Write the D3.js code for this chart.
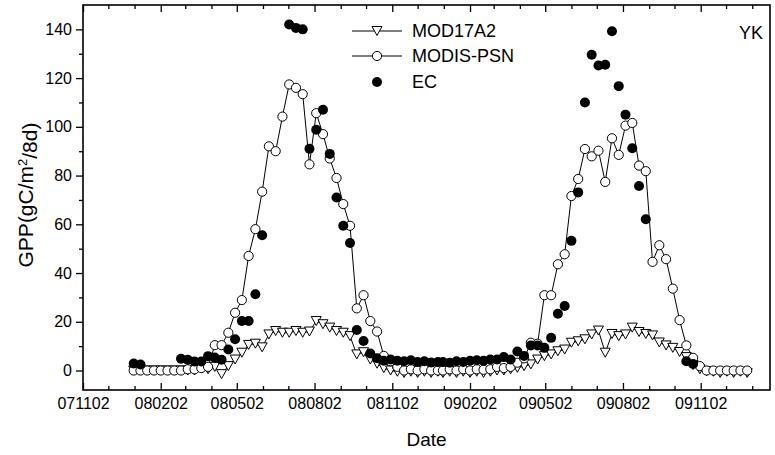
<!DOCTYPE html>
<html>
<head>
<meta charset="utf-8">
<script src="https://cdn.jsdelivr.net/npm/d3@7"></script>
<style>
  body { margin: 0; background: #fff; }
  svg { font-family: "Liberation Sans", Arial, sans-serif; }
</style>
</head>
<body>
<div class="vis1"></div>
<script>
// GPP time series at YK: MOD17A2, MODIS-PSN and EC, 8-day composites 2008-2009

const FRAME_WIDTH = 775;
const FRAME_HEIGHT = 455;
const MARGINS = {left: 83, right: 5, top: 5, bottom: 65};

const VIS_WIDTH = FRAME_WIDTH - MARGINS.left - MARGINS.right;
const VIS_HEIGHT = FRAME_HEIGHT - MARGINS.top - MARGINS.bottom;

// composite start days (day of year) and years
const YEARS = [2008, 2009];
const DOY = [1, 9, 17, 25, 33, 41, 49, 57, 65, 73, 81, 89, 97, 105, 113, 121,
             129, 137, 145, 153, 161, 169, 177, 185, 193, 201, 209, 217, 225,
             233, 241, 249, 257, 265, 273, 281, 289, 297, 305, 313, 321, 329,
             337, 345, 353, 361];

// series values, gC/m2/8d (2008 then 2009)
const MOD17A2 = [
  0, 0, 0, 0, 0, 0, 0, 0, 0, 0, 1, 0.5, 1.5, -1.5, 1.8, 4.5, 7.3, 10.5, 11, 9.5,
  14.8, 16.2, 15.5, 15.5, 16.2, 15.5, 16, 20.3, 19, 17.6, 16.2, 15.5, 14.1, 6.6, 7.5, 4.5,
  2.8, 1, 0, -0.5, -1, -0.5, -1, -0.5, -1, -0.5,
  -1, -0.5, -1, -0.5, -1, -0.5, -1, -0.5, 0, 0, 0.5, 1.1, 1.8, 2.5, 4.5, 5.9, 6.6, 7.9,
  8.6, 11.4, 12, 12.8, 14.8, 16.4, 7.3, 15, 14.1, 14.8, 17.6, 15.8, 15, 14.4, 11.5, 10.3,
  9.3, 7.6, 5.5, 2.2, 0.5, -0.3, -0.5, -1, -0.5, -1, -0.5, -1
];
const MODIS_PSN = [
  0, 0, 0, 0, 0, 0, 0, 0, 0.5, 0.5, 1, 1.5, 10.4, 10.4, 15.5, 23.7, 28.9, 47, 58, 73.4,
  92, 90, 104.2, 117.4, 116, 113.4, 84.6, 105.6, 97, 87, 79, 68.3, 59.4, 25.5, 30.9, 20.3,
  16, 6, 3.8, 1.5, 0, 0.5, 0, 0.5, 0, 0,
  0, 0.5, 0, 0.5, 0, 0.5, 0.3, 0.5, 1.5, 1, 1.5, 3.2, 5, 11.4, 11, 30.9, 30.9, 43.6,
  47.7, 71.6, 78.6, 90.9, 87.9, 90.2, 77.4, 95.3, 88.5, 100.5, 101.6, 84.1, 81.8, 44.6,
  51.4, 45.7, 33.6, 20.7, 10.3, 5.2, 1.8, 0, 0, 0, 0, 0, 0, 0
];
const EC = [
  2.9, 2.5, null, null, null, null, null, 4.8, 4.4, 3.7, 3.7, 5.9, 5.3, 4.4, 8.6, 12.8,
  20.3, 20.3, 31.3, 55.5, null, null, null, 142, 140.6, 140, 91, 98.8, 107, 88.9, 71,
  59.4, 52.3, 16.6, 12.1, 7, 5, 4, 4.5, 4, 3.8, 4.2, 3.5, 3.8, 3.3, 3.5,
  3.5, 3.2, 3.8, 3.5, 4, 4.2, 4, 4.5, 4.5, 5.5, 4.5, 7.8, 6, 10.3, 10.3, 9.3, 13.4,
  23.3, 26.5, 53.2, 73.1, 110, 129.6, 125.2, 125.5, 139.2, 116.7, 105, 91.2, 75.7, 62.1,
  null, null, null, null, null, 3.8, 2.7, null, null, null, null, null, null, null, null
];

// axis ticks
const X_LABELS = ["071102", "080202", "080502", "080802", "081102",
                  "090202", "090502", "090802", "091102"];
const X_MINOR = ["071202", "080102", "080302", "080402", "080602", "080702",
                 "080902", "081002", "081202", "090102", "090302", "090402",
                 "090602", "090702", "090902", "091002", "091202", "100102"];
const Y_TICKS = [0, 20, 40, 60, 80, 100, 120, 140];
const Y_MINOR = [10, 30, 50, 70, 90, 110, 130];

const parseTick = d3.timeParse("%y%m%d");

// build dates for every composite
const DATES = [];
YEARS.forEach((y) => {
    DOY.forEach((d) => { DATES.push(new Date(y, 0, d)); });
});

const FRAME = d3.select('.vis1')
    .append('svg')
        .attr('width', FRAME_WIDTH)
        .attr('height', FRAME_HEIGHT);

const X_SCALE = d3.scaleTime()
    .domain([parseTick("071102"), new Date(2010, 0, 23)])
    .range([MARGINS.left, MARGINS.left + VIS_WIDTH]);

const Y_SCALE = d3.scaleLinear()
    .domain([-8, 150])
    .range([MARGINS.top + VIS_HEIGHT, MARGINS.top]);

const BOTTOM = MARGINS.top + VIS_HEIGHT;

// x axis, ticks pointing inside
FRAME.append('g')
    .attr('transform', 'translate(0,' + BOTTOM + ')')
    .call(d3.axisBottom(X_SCALE)
        .tickValues(X_LABELS.map(parseTick))
        .tickSize(-7)
        .tickPadding(8)
        .tickFormat((d, i) => X_LABELS[i]));
FRAME.append('g')
    .attr('transform', 'translate(0,' + BOTTOM + ')')
    .call(d3.axisBottom(X_SCALE)
        .tickValues(X_MINOR.map(parseTick))
        .tickSize(-4)
        .tickFormat(''));

// mirrored ticks on the top border
FRAME.append('g')
    .attr('transform', 'translate(0,' + MARGINS.top + ')')
    .call(d3.axisTop(X_SCALE)
        .tickValues(X_LABELS.map(parseTick))
        .tickSize(-7)
        .tickFormat(''));
FRAME.append('g')
    .attr('transform', 'translate(0,' + MARGINS.top + ')')
    .call(d3.axisTop(X_SCALE)
        .tickValues(X_MINOR.map(parseTick))
        .tickSize(-4)
        .tickFormat(''));

// y axis, ticks pointing outside
FRAME.append('g')
    .attr('transform', 'translate(' + MARGINS.left + ',0)')
    .call(d3.axisLeft(Y_SCALE)
        .tickValues(Y_TICKS)
        .tickSize(7)
        .tickPadding(4));
FRAME.append('g')
    .attr('transform', 'translate(' + MARGINS.left + ',0)')
    .call(d3.axisLeft(Y_SCALE)
        .tickValues(Y_MINOR)
        .tickSize(4)
        .tickFormat(''));

FRAME.selectAll('.domain').remove();
FRAME.selectAll('.tick line').attr('stroke', '#000').attr('stroke-width', 1.3);
FRAME.selectAll('.tick text')
    .attr('font-size', '16px')
    .attr('font-family', '"Liberation Sans", Arial, sans-serif')
    .attr('fill', '#000');

// plot frame
FRAME.append('rect')
    .attr('x', MARGINS.left)
    .attr('y', MARGINS.top)
    .attr('width', VIS_WIDTH)
    .attr('height', VIS_HEIGHT)
    .attr('fill', 'none')
    .attr('stroke', '#000')
    .attr('stroke-width', 1.6);

// triangle marker (pointing down)
const triangle = (cx, cy, s) => {
    const h = s * 0.9;
    return 'M' + (cx - s / 2) + ',' + (cy - h / 2) + 'L' + (cx + s / 2) + ',' + (cy - h / 2) +
            'L' + cx + ',' + (cy + h / 2) + 'Z';
};

const modData = DATES.map((d, i) => ({date: d, value: MOD17A2[i]}));
const psnData = DATES.map((d, i) => ({date: d, value: MODIS_PSN[i]}));
const ecData = DATES.map((d, i) => ({date: d, value: EC[i]})).filter((d) => d.value !== null);

const line = d3.line()
    .x((d) => X_SCALE(d.date))
    .y((d) => Y_SCALE(d.value));

// MOD17A2
FRAME.append('path')
    .datum(modData)
    .attr('d', line)
    .attr('fill', 'none')
    .attr('stroke', '#000')
    .attr('stroke-width', 1);
FRAME.selectAll('.mod')
    .data(modData)
    .enter().append('path')
    .attr('class', 'mod')
    .attr('d', (d) => triangle(X_SCALE(d.date), Y_SCALE(d.value), 10))
    .attr('fill', '#fff')
    .attr('stroke', '#000')
    .attr('stroke-width', 1);

// MODIS-PSN
FRAME.append('path')
    .datum(psnData)
    .attr('d', line)
    .attr('fill', 'none')
    .attr('stroke', '#000')
    .attr('stroke-width', 1);
FRAME.selectAll('.psn')
    .data(psnData)
    .enter().append('circle')
    .attr('class', 'psn')
    .attr('cx', (d) => X_SCALE(d.date))
    .attr('cy', (d) => Y_SCALE(d.value))
    .attr('r', 4.6)
    .attr('fill', '#fff')
    .attr('stroke', '#000')
    .attr('stroke-width', 1);

// EC
FRAME.selectAll('.ec')
    .data(ecData)
    .enter().append('circle')
    .attr('class', 'ec')
    .attr('cx', (d) => X_SCALE(d.date))
    .attr('cy', (d) => Y_SCALE(d.value))
    .attr('r', 5)
    .attr('fill', '#000');

// legend
const LEGEND = FRAME.append('g').attr('font-size', '18px');
const rows = [31, 56, 82];
[["MOD17A2", "tri"], ["MODIS-PSN", "circ"], ["EC", "dot"]].forEach((item, i) => {
    const y = rows[i];
    if (item[1] !== 'dot') {
        LEGEND.append('line')
            .attr('x1', 352).attr('x2', 402)
            .attr('y1', y).attr('y2', y)
            .attr('stroke', '#000');
    }
    if (item[1] === 'tri') {
        LEGEND.append('path').attr('d', triangle(377, y, 10))
            .attr('fill', '#fff').attr('stroke', '#000');
    } else if (item[1] === 'circ') {
        LEGEND.append('circle').attr('cx', 377).attr('cy', y).attr('r', 4.6)
            .attr('fill', '#fff').attr('stroke', '#000');
    } else {
        LEGEND.append('circle').attr('cx', 377).attr('cy', y).attr('r', 5).attr('fill', '#000');
    }
    LEGEND.append('text')
        .attr('x', 412).attr('y', y)
        .attr('dy', '0.36em')
        .text(item[0]);
});

FRAME.append('text')
    .attr('x', 739).attr('y', 39)
    .attr('font-size', '18px')
    .text('YK');

// axis titles
FRAME.append('text')
    .attr('x', MARGINS.left + VIS_WIDTH / 2)
    .attr('y', 446)
    .attr('text-anchor', 'middle')
    .attr('font-size', '19px')
    .text('Date');

const yTitle = FRAME.append('text')
    .attr('transform', 'translate(33,' + 195 + ') rotate(-90)')
    .attr('text-anchor', 'middle')
    .attr('font-size', '21px');
yTitle.append('tspan').text('GPP(gC/m');
yTitle.append('tspan').attr('dy', '-0.45em').attr('font-size', '13px').text('2');
yTitle.append('tspan').attr('dy', '0.45em').text('/8d)');
</script>
</body>
</html>
